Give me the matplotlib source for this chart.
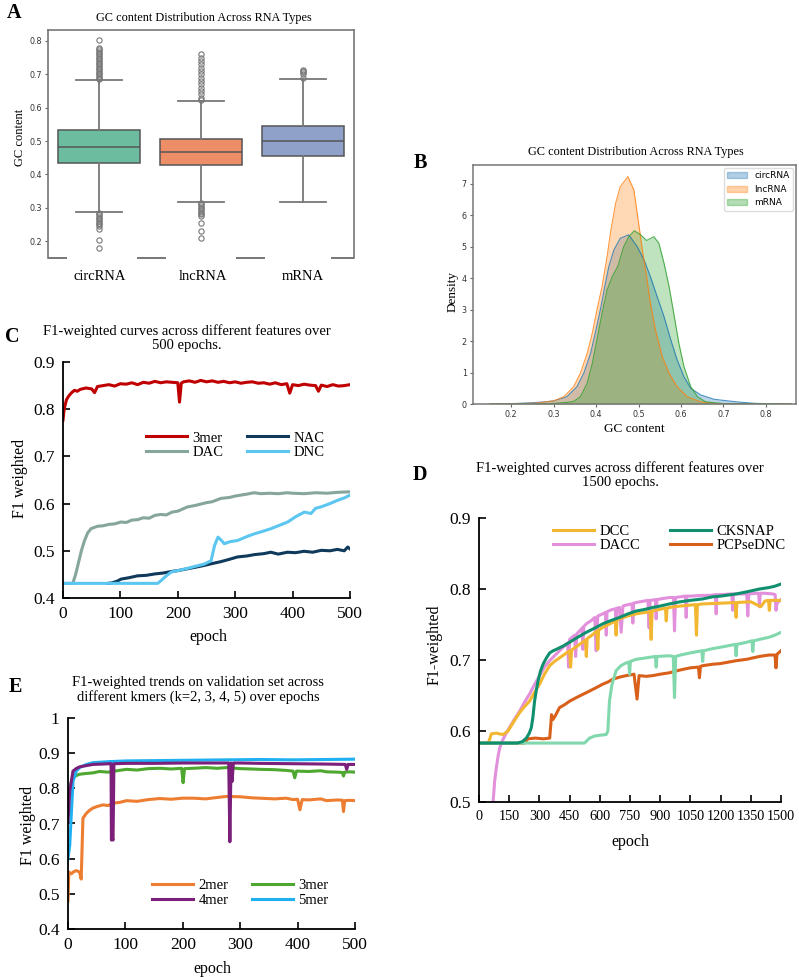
import matplotlib
matplotlib.use("Agg")
import matplotlib.pyplot as plt
from matplotlib.patches import Patch
from matplotlib.ticker import FuncFormatter

W, H = 799, 977
SERIF = ["Liberation Serif", "DejaVu Serif"]

# ---------------- data ----------------
# A: box statistics
rna_types = ["circRNA", "lncRNA", "mRNA"]
box_q1 = [0.435, 0.429, 0.454]
box_med = [0.482, 0.466, 0.499]
box_q3 = [0.533, 0.505, 0.545]
box_lo = [0.286, 0.316, 0.316]
box_hi = [0.683, 0.619, 0.685]
circ_fliers = [0.686, 0.69, 0.695, 0.70, 0.705, 0.71, 0.715, 0.72, 0.725, 0.73, 0.735,
               0.74, 0.745, 0.75, 0.755, 0.76, 0.765, 0.77, 0.775, 0.78, 0.803,
               0.284, 0.28, 0.275, 0.27, 0.265, 0.26, 0.255, 0.25, 0.245, 0.235, 0.202, 0.18]
lnc_fliers = [0.622, 0.63, 0.64, 0.65, 0.66, 0.67, 0.68, 0.69, 0.70, 0.71, 0.72, 0.73,
              0.74, 0.75, 0.76, 0.313, 0.31, 0.305, 0.30, 0.295, 0.29, 0.285, 0.28,
              0.275, 0.255, 0.23, 0.21]
m_fliers = [0.69, 0.70, 0.706, 0.71, 0.713]
box_colors = ["#6cbd9f", "#ee8e68", "#8fa0c9"]

# B: density curves
circ_x = [0.15, 0.20, 0.25, 0.28, 0.30, 0.331, 0.355, 0.371, 0.387, 0.398,
          0.41, 0.422, 0.43, 0.442, 0.457, 0.477, 0.497, 0.513, 0.528, 0.544,
          0.56, 0.576, 0.591, 0.607, 0.623, 0.646, 0.678, 0.697, 0.737, 0.776, 0.82, 0.86]
circ_d = [0.0, 0.01, 0.04, 0.07, 0.1, 0.23, 0.55, 0.98, 1.61, 2.25,
          2.99, 3.84, 4.37, 4.9, 5.27, 5.38, 5.0, 4.58, 4.05, 3.41,
          2.78, 2.04, 1.4, 0.87, 0.5, 0.29, 0.15, 0.12, 0.06, 0.02, 0.005, 0.0]
lnc_x = [0.15, 0.22, 0.26, 0.3, 0.324, 0.347, 0.363, 0.379, 0.391, 0.402,
         0.414, 0.426, 0.435, 0.446, 0.457, 0.475, 0.489, 0.498, 0.509, 0.519,
         0.528, 0.54, 0.556, 0.572, 0.591, 0.615, 0.646, 0.68, 0.75, 0.86]
lnc_d = [0.0, 0.01, 0.03, 0.1, 0.23, 0.55, 0.98, 1.61, 2.25, 2.99,
         3.73, 4.69, 5.54, 6.38, 6.91, 7.23, 6.81, 5.96, 4.9, 4.05,
         3.2, 2.35, 1.5, 0.98, 0.55, 0.23, 0.07, 0.02, 0.003, 0.0]
m_x = [0.15, 0.25, 0.3, 0.33, 0.347, 0.363, 0.379, 0.391, 0.402, 0.414,
       0.426, 0.438, 0.451, 0.465, 0.477, 0.49, 0.505, 0.519, 0.536, 0.548,
       0.56, 0.572, 0.583, 0.595, 0.607, 0.623, 0.639, 0.658, 0.7, 0.86]
m_d = [0.0, 0.005, 0.02, 0.05, 0.08, 0.23, 0.66, 1.29, 2.04, 2.88,
       3.63, 4.05, 4.37, 5.0, 5.32, 5.51, 5.38, 5.2, 5.32, 5.11,
       4.48, 3.73, 2.88, 1.93, 1.19, 0.55, 0.23, 0.07, 0.01, 0.0]

# C: F1 over 500 epochs
c_3mer_x = [0, 2, 4, 6, 10, 15, 20, 25, 30, 40, 50, 55, 60, 70, 80, 90, 100, 110, 120, 130,
            140, 150, 160, 170, 180, 190, 200, 203, 206, 210, 220, 230, 240, 250, 260, 270,
            280, 290, 300, 310, 320, 330, 340, 350, 360, 370, 380, 390, 395, 400, 410, 420,
            430, 440, 445, 450, 460, 470, 480, 490, 500]
c_3mer_y = [0.777, 0.80, 0.81, 0.82, 0.828, 0.835, 0.84, 0.838, 0.842, 0.845,
            0.843, 0.835, 0.848, 0.85, 0.852, 0.849, 0.854, 0.853, 0.856, 0.852,
            0.857, 0.855, 0.859, 0.856, 0.858, 0.857, 0.856, 0.815, 0.855, 0.858,
            0.86, 0.857, 0.861, 0.858, 0.86, 0.857, 0.859, 0.856, 0.858, 0.855,
            0.857, 0.858, 0.855, 0.856, 0.853, 0.856, 0.852, 0.854, 0.834, 0.852,
            0.85, 0.853, 0.851, 0.85, 0.838, 0.851, 0.848, 0.852, 0.849, 0.85, 0.852]
c_dac_x = [0, 17, 22, 27, 32, 37, 43, 49, 60, 70, 80, 90, 101, 110, 120, 130, 140, 150, 160, 170,
           180, 190, 200, 217, 230, 240, 250, 260, 275, 290, 300, 310, 320, 333, 345, 360, 375,
           390, 400, 420, 440, 460, 480, 500]
c_dac_y = [0.431, 0.431, 0.45, 0.475, 0.50, 0.52, 0.538, 0.547, 0.552, 0.553,
           0.556, 0.557, 0.561, 0.56, 0.565, 0.566, 0.57, 0.569, 0.575, 0.577,
           0.576, 0.582, 0.584, 0.593, 0.596, 0.599, 0.602, 0.604, 0.611, 0.613,
           0.616, 0.618, 0.62, 0.623, 0.621, 0.622, 0.621, 0.623, 0.622, 0.621,
           0.623, 0.622, 0.624, 0.625]
c_nac_x = [78, 85, 95, 101, 115, 130, 145, 160, 175, 188, 200, 217, 230, 246, 260, 275, 290,
           304, 320, 334, 350, 362, 375, 391, 405, 420, 435, 450, 465, 478, 490, 496, 500]
c_nac_y = [0.431, 0.432, 0.436, 0.44, 0.443, 0.447, 0.448, 0.451, 0.453, 0.456,
           0.458, 0.462, 0.465, 0.469, 0.473, 0.477, 0.482, 0.487, 0.489, 0.492,
           0.494, 0.497, 0.493, 0.497, 0.496, 0.499, 0.497, 0.501, 0.5, 0.503,
           0.5, 0.508, 0.504]
c_dnc_x = [0, 165, 171, 180, 188.5, 200, 217.5, 230, 246.5, 258, 264, 270, 276, 281, 290,
           304.5, 320, 333.5, 350, 362.5, 375, 391.5, 405, 420.5, 432, 440, 449.5, 465,
           478.5, 490, 500]
c_dnc_y = [0.431, 0.431, 0.437, 0.447, 0.455, 0.458, 0.463, 0.467, 0.472, 0.479,
           0.511, 0.529, 0.522, 0.515, 0.519, 0.522, 0.53, 0.536, 0.542, 0.547,
           0.553, 0.561, 0.572, 0.582, 0.579, 0.59, 0.593, 0.6, 0.607, 0.612, 0.618]

# D: F1 over 1500 epochs
d_dcc_x = [0, 45, 55, 61, 86, 100, 119, 135, 144, 170,
           202, 225, 251, 275, 301, 325, 351, 375, 400, 425,
           450, 455, 460, 490, 529, 533, 537, 570, 586, 590,
           594, 615, 650, 677, 681, 685, 698, 740, 781, 850,
           855, 860, 926, 930, 934, 946, 1000, 1075, 1080, 1085,
           1111, 1200, 1273, 1277, 1281, 1350, 1400, 1420, 1438, 1442,
           1446, 1470, 1500]
d_dcc_y = [0.583, 0.583, 0.59, 0.596, 0.597, 0.596, 0.595, 0.598, 0.6, 0.612,
           0.626, 0.634, 0.642, 0.654, 0.666, 0.68, 0.692, 0.698, 0.703, 0.708,
           0.713, 0.69, 0.714, 0.72, 0.728, 0.705, 0.73, 0.737, 0.741, 0.715,
           0.742, 0.746, 0.751, 0.755, 0.735, 0.756, 0.758, 0.762, 0.765, 0.768,
           0.729, 0.769, 0.773, 0.755, 0.773, 0.774, 0.776, 0.778, 0.735, 0.778,
           0.779, 0.78, 0.781, 0.76, 0.781, 0.782, 0.775, 0.783, 0.784, 0.77,
           0.784, 0.784, 0.784]
d_dacc_x = [60, 70, 78, 86, 95, 103, 111, 119, 135, 152,
            175, 202, 225, 251, 275, 301, 325, 351, 375, 400,
            425, 440, 445, 450, 475, 480, 486, 500, 512, 516,
            520, 533, 560, 575, 582, 590, 615, 628, 632, 636,
            660, 677, 681, 685, 698, 706, 715, 740, 760, 764,
            768, 781, 800, 839, 845, 850, 876, 880, 884, 900,
            946, 966, 971, 976, 1000, 1025, 1029, 1033, 1050, 1111,
            1150, 1174, 1178, 1182, 1200, 1250, 1256, 1260, 1264, 1300,
            1330, 1335, 1340, 1380, 1389, 1393, 1397, 1420, 1460, 1471,
            1475, 1480, 1500]
d_dacc_y = [0.47, 0.50, 0.53, 0.548, 0.565, 0.576, 0.583, 0.588, 0.597, 0.605,
            0.616, 0.628, 0.64, 0.652, 0.665, 0.678, 0.69, 0.699, 0.706, 0.713,
            0.72, 0.724, 0.69, 0.729, 0.735, 0.705, 0.737, 0.741, 0.745, 0.715,
            0.747, 0.751, 0.756, 0.76, 0.713, 0.762, 0.765, 0.767, 0.735, 0.768,
            0.771, 0.772, 0.745, 0.773, 0.774, 0.739, 0.776, 0.778, 0.779, 0.752,
            0.78, 0.781, 0.782, 0.784, 0.745, 0.784, 0.785, 0.758, 0.785, 0.786,
            0.788, 0.788, 0.741, 0.788, 0.789, 0.79, 0.76, 0.79, 0.79, 0.791,
            0.791, 0.792, 0.765, 0.792, 0.792, 0.793, 0.793, 0.77, 0.793, 0.793,
            0.793, 0.762, 0.793, 0.794, 0.794, 0.775, 0.794, 0.794, 0.793, 0.792,
            0.77, 0.78, 0.785]
d_ck_x = [0, 190, 215, 235, 250, 260, 268, 276, 285, 293, 305, 318, 335, 351, 368, 384, 420,
          450, 490, 533, 575, 615, 650, 698, 740, 781, 820, 863, 900, 946, 1000, 1050, 1111,
          1160, 1200, 1277, 1330, 1393, 1440, 1470, 1500]
d_ck_y = [0.583, 0.583, 0.585, 0.59, 0.597, 0.605, 0.62, 0.642, 0.658, 0.67,
          0.684, 0.694, 0.703, 0.71, 0.713, 0.715, 0.72, 0.725, 0.732, 0.739,
          0.745, 0.751, 0.755, 0.76, 0.765, 0.769, 0.771, 0.774, 0.776, 0.779,
          0.782, 0.784, 0.786, 0.789, 0.79, 0.793, 0.796, 0.8, 0.802, 0.804, 0.807]
d_pcp_x = [0, 225, 243, 280, 320, 351, 357, 360, 367, 380, 400, 425, 450, 490, 533, 575, 615,
           640, 665, 700, 731, 770, 785, 795, 830, 863, 900, 946, 1000, 1050, 1090, 1095, 1100,
           1111, 1160, 1200, 1277, 1330, 1393, 1440, 1470, 1475, 1480, 1500]
d_pcp_y = [0.583, 0.583, 0.589, 0.59, 0.589, 0.59, 0.61, 0.623, 0.616, 0.622,
           0.633, 0.637, 0.642, 0.648, 0.654, 0.66, 0.666, 0.669, 0.673, 0.676,
           0.678, 0.68, 0.645, 0.678, 0.677, 0.678, 0.68, 0.682, 0.686, 0.689,
           0.69, 0.675, 0.691, 0.692, 0.694, 0.695, 0.699, 0.701, 0.705, 0.707,
           0.707, 0.689, 0.708, 0.713]
d_mint_x = [0, 524, 549, 575, 599, 632, 640, 648, 660, 681,
            705, 731, 744, 748, 752, 781, 830, 876, 880, 884,
            946, 965, 971, 977, 1000, 1050, 1107, 1111, 1115, 1160,
            1200, 1273, 1277, 1281, 1330, 1356, 1360, 1364, 1393, 1440,
            1470, 1500]
d_mint_y = [0.583, 0.583, 0.59, 0.593, 0.594, 0.595, 0.6, 0.642, 0.665, 0.685,
            0.692, 0.696, 0.697, 0.68, 0.698, 0.701, 0.703, 0.705, 0.69, 0.705,
            0.706, 0.705, 0.647, 0.705, 0.707, 0.71, 0.713, 0.698, 0.713, 0.716,
            0.718, 0.722, 0.706, 0.722, 0.725, 0.727, 0.712, 0.727, 0.729, 0.732,
            0.735, 0.739]

# E: kmer validation curves
e_2mer_x = [0, 1.5, 5.8, 10, 14.5, 20, 23, 26, 29, 32, 38, 43.6, 50, 61, 70, 78.5, 90, 102,
            120, 140, 160, 180, 200, 218, 240, 260, 276, 300, 320, 334, 360, 380, 392, 400,
            404, 408, 420, 440, 450.5, 470, 478, 480, 482, 490, 500]
e_2mer_y = [0.48, 0.562, 0.557, 0.563, 0.566, 0.562, 0.542, 0.715, 0.722, 0.729,
            0.738, 0.744, 0.748, 0.753, 0.751, 0.758, 0.76, 0.765, 0.763, 0.768,
            0.771, 0.769, 0.772, 0.772, 0.77, 0.774, 0.777, 0.776, 0.773, 0.772,
            0.77, 0.772, 0.768, 0.769, 0.739, 0.768, 0.767, 0.77, 0.765, 0.767,
            0.766, 0.734, 0.765, 0.766, 0.765]
e_3mer_x = [0, 3, 6, 8.7, 14, 20, 30, 43.6, 55, 70, 85, 102, 120, 140, 160, 180, 198, 200.5,
            203, 218, 240, 260, 276, 300, 320, 334, 360, 380, 392, 395, 398, 420, 440, 450.5,
            470, 478, 480, 482, 490, 500]
e_3mer_y = [0.77, 0.8, 0.82, 0.83, 0.836, 0.84, 0.842, 0.844, 0.848, 0.846,
            0.85, 0.854, 0.852, 0.856, 0.857, 0.855, 0.857, 0.816, 0.856, 0.857,
            0.859, 0.857, 0.859, 0.856, 0.855, 0.854, 0.853, 0.851, 0.849, 0.83,
            0.849, 0.848, 0.85, 0.847, 0.846, 0.845, 0.835, 0.846, 0.847, 0.846]
e_4mer_x = [0, 3, 8.7, 14, 20, 30, 43.6, 60, 72.7, 75, 75.6, 77, 78.5, 80, 102, 150, 200, 250,
            276, 280, 282, 284, 286, 288, 290, 300, 334, 392, 450, 483, 485.5, 488, 500]
e_4mer_y = [0.705, 0.792, 0.849, 0.856, 0.861, 0.864, 0.868, 0.869, 0.87, 0.87,
            0.653, 0.66, 0.653, 0.87, 0.871, 0.871, 0.872, 0.872, 0.872, 0.872,
            0.648, 0.872, 0.82, 0.872, 0.872, 0.872, 0.871, 0.87, 0.869, 0.868,
            0.854, 0.868, 0.868]
e_5mer_x = [0, 3, 6, 8.7, 14.5, 20, 32, 43.6, 72.7, 102, 160, 218, 276, 334, 392, 450, 500]
e_5mer_y = [0.60, 0.638, 0.734, 0.82, 0.849, 0.859, 0.868, 0.873, 0.876, 0.878,
            0.879, 0.88, 0.881, 0.882, 0.881, 0.882, 0.883]

# ---------------- figure ----------------
fig = plt.figure(figsize=(W / 100, H / 100), dpi=100)


def px_axes(l, t, r, b):
    return fig.add_axes([l / W, 1 - b / H, (r - l) / W, (b - t) / H])


def label(x, y, s, size=10, **kw):
    fig.text(x / W, 1 - y / H, s, ha="center", va="center", fontsize=size,
             family=SERIF, **kw)


def line_axes(ax, xlim, ylim, xticks, yticks):
    ax.set_xlim(*xlim)
    ax.set_ylim(*ylim)
    ax.set_xticks(xticks)
    ax.set_yticks(yticks)
    ax.yaxis.set_major_formatter(FuncFormatter(lambda v, p: "%g" % round(v, 2)))
    for s in ["top", "right"]:
        ax.spines[s].set_visible(False)
    for s in ["left", "bottom"]:
        ax.spines[s].set_linewidth(1.3)
    ax.tick_params(direction="in", length=5, width=1.2, labelsize=12.5, pad=6)
    for t in ax.get_xticklabels() + ax.get_yticklabels():
        t.set_family(SERIF)


# ---- A: box plot ----
axA = px_axes(48, 30, 354, 258)
fliers = [circ_fliers, lnc_fliers, m_fliers]
stats = []
for i, name in enumerate(rna_types):
    stats.append(dict(label=name, med=box_med[i], q1=box_q1[i], q3=box_q3[i],
                      whislo=box_lo[i], whishi=box_hi[i], fliers=fliers[i]))
bp = axA.bxp(stats, positions=[0, 1, 2], widths=0.8, capwidths=0.46, patch_artist=True,
             boxprops=dict(edgecolor="#555555", linewidth=1.1),
             medianprops=dict(color="#555555", linewidth=1.1),
             whiskerprops=dict(color="#777777", linewidth=1.3),
             capprops=dict(color="#777777", linewidth=1.3),
             flierprops=dict(marker="o", markerfacecolor="none", markeredgecolor="#777777",
                             markersize=3.8, markeredgewidth=0.8))
for patch, c in zip(bp["boxes"], box_colors):
    patch.set_facecolor(c)
axA.set_xlim(-0.5, 2.5)
axA.set_ylim(0.149, 0.833)
axA.set_yticks([0.2, 0.3, 0.4, 0.5, 0.6, 0.7, 0.8])
axA.set_xticks([])
axA.tick_params(axis="y", labelsize=5.8, labelcolor="#333333", length=2.5, pad=1.5,
                color="#666666")
for s in ["top", "left", "right"]:
    axA.spines[s].set_color("#777777")
    axA.spines[s].set_linewidth(1.2)
axA.spines["bottom"].set_visible(False)
for x0, x1 in [(-0.5, -0.31), (0.37, 0.66), (1.34, 1.63), (2.27, 2.5)]:
    axA.plot([x0, x1], [0.149, 0.149], color="#777777", lw=1.4, clip_on=False,
             solid_capstyle="butt")
for x, name in zip([100, 203, 303], rna_types):
    label(x, 276, name, size=10.5)
label(204, 18, "GC content Distribution Across RNA Types", size=8.8)
label(20, 137, "GC content", size=9, rotation=90)
label(14, 13, "A", size=14.5, weight="bold")

# ---- B: density ----
axB = px_axes(473, 165, 796, 404)
for xs, ds, c, name in [(circ_x, circ_d, "tab:blue", "circRNA"),
                        (lnc_x, lnc_d, "tab:orange", "lncRNA"),
                        (m_x, m_d, "tab:green", "mRNA")]:
    axB.fill_between(xs, ds, color=c, alpha=0.3, lw=0)
    axB.plot(xs, ds, color=c, lw=0.8, alpha=0.8)
axB.set_xlim(0.11, 0.871)
axB.set_ylim(0, 7.6)
axB.set_xticks([0.2, 0.3, 0.4, 0.5, 0.6, 0.7, 0.8])
axB.set_yticks([0, 1, 2, 3, 4, 5, 6, 7])
axB.tick_params(labelsize=5.8, labelcolor="#333333", length=2.5, pad=2, color="#666666")
for s in axB.spines.values():
    s.set_color("#777777")
    s.set_linewidth(1.1)
handles = [Patch(facecolor=c, edgecolor=c, alpha=0.35) for c in ["tab:blue", "tab:orange", "tab:green"]]
axB.legend(handles, rna_types, loc="upper right", fontsize=6.5, framealpha=1,
           edgecolor="#dddddd", handlelength=2.2, borderaxespad=0.3)
label(636, 152, "GC content Distribution Across RNA Types", size=8.8)
label(634, 429, "GC content", size=9.5)
label(453, 292, "Density", size=9.5, rotation=90)
label(420, 163, "B", size=14.5, weight="bold")

# ---- C ----
axC = px_axes(63, 362, 350, 598)
axC.plot(c_3mer_x, c_3mer_y, color="#c00000", lw=2.2, label="3mer")
axC.plot(c_dac_x, c_dac_y, color="#86a69d", lw=2.2, label="DAC")
axC.plot(c_nac_x, c_nac_y, color="#0f3a5c", lw=2.2, label="NAC")
axC.plot(c_dnc_x, c_dnc_y, color="#5bc6f0", lw=2.2, label="DNC")
line_axes(axC, (0, 500), (0.4, 0.9), [0, 100, 200, 300, 400, 500],
          [0.4, 0.5, 0.6, 0.7, 0.8, 0.9])
h, l = axC.get_legend_handles_labels()
axC.legend(h, l, ncol=2, frameon=False,
           loc="center", bbox_to_anchor=(0.6, 0.647), prop=dict(family=SERIF, size=10.5),
           handlelength=2.8, columnspacing=1.6, labelspacing=0.1, handletextpad=0.4)
label(187, 338, "F1-weighted curves across different features over\n500 epochs.",
      size=10.5, linespacing=1.15)
label(208, 637, "epoch", size=11.5)
label(20, 478, "F1 weighted", size=11.5, rotation=90)
label(12, 337, "C", size=14.5, weight="bold")

# ---- D ----
axD = px_axes(479, 518, 781, 802)
axD.plot(d_dacc_x, d_dacc_y, color="#e290dc", lw=2.2, label="DACC")
axD.plot(d_dcc_x, d_dcc_y, color="#f2b630", lw=2.2, label="DCC")
axD.plot(d_pcp_x, d_pcp_y, color="#d8601a", lw=2.2, label="PCPseDNC")
axD.plot(d_mint_x, d_mint_y, color="#80d8ac", lw=2.2)
axD.plot(d_ck_x, d_ck_y, color="#11906f", lw=2.2, label="CKSNAP")
line_axes(axD, (0, 1500), (0.5, 0.9), list(range(0, 1501, 150)),
          [0.5, 0.6, 0.7, 0.8, 0.9])
axD.tick_params(axis="x", labelsize=10.3)
h, l = axD.get_legend_handles_labels()
order = [1, 0, 3, 2]
axD.legend([h[i] for i in order], [l[i] for i in order], ncol=2, frameon=False,
           loc="center", bbox_to_anchor=(0.631, 0.928), prop=dict(family=SERIF, size=10.5),
           handlelength=2.8, columnspacing=2.0, labelspacing=0.1, handletextpad=0.4)
label(620, 475, "F1-weighted curves across different features over\n1500 epochs.",
      size=10.5, linespacing=1.15)
label(630, 842, "epoch", size=11.5)
label(435, 645, "F1-weighted", size=11.5, rotation=90)
label(420, 475, "D", size=14.5, weight="bold")

# ---- E ----
axE = px_axes(68, 718, 355, 929)
axE.plot(e_2mer_x, e_2mer_y, color="#ed7d31", lw=2.2, label="2mer")
axE.plot(e_3mer_x, e_3mer_y, color="#4ea72e", lw=2.2, label="3mer")
axE.plot(e_5mer_x, e_5mer_y, color="#1eb0f0", lw=2.2, label="5mer")
axE.plot(e_4mer_x, e_4mer_y, color="#7b1f7b", lw=2.2, label="4mer")
line_axes(axE, (0, 500), (0.4, 1.0), [0, 100, 200, 300, 400, 500],
          [0.4, 0.5, 0.6, 0.7, 0.8, 0.9, 1.0])
h, l = axE.get_legend_handles_labels()
order = [0, 3, 1, 2]
axE.legend([h[i] for i in order], [l[i] for i in order], ncol=2, frameon=False,
           loc="center", bbox_to_anchor=(0.6, 0.172), prop=dict(family=SERIF, size=10.5),
           handlelength=2.8, columnspacing=1.6, labelspacing=0.1, handletextpad=0.4)
label(198, 690, "F1-weighted trends on validation set across\ndifferent kmers (k=2, 3, 4, 5) over epochs",
      size=10.5, linespacing=1.15)
label(212, 969, "epoch", size=11.5)
label(28, 825, "F1 weighted", size=11.5, rotation=90)
label(15, 687, "E", size=14.5, weight="bold")

fig.savefig("out.png", dpi=100)
